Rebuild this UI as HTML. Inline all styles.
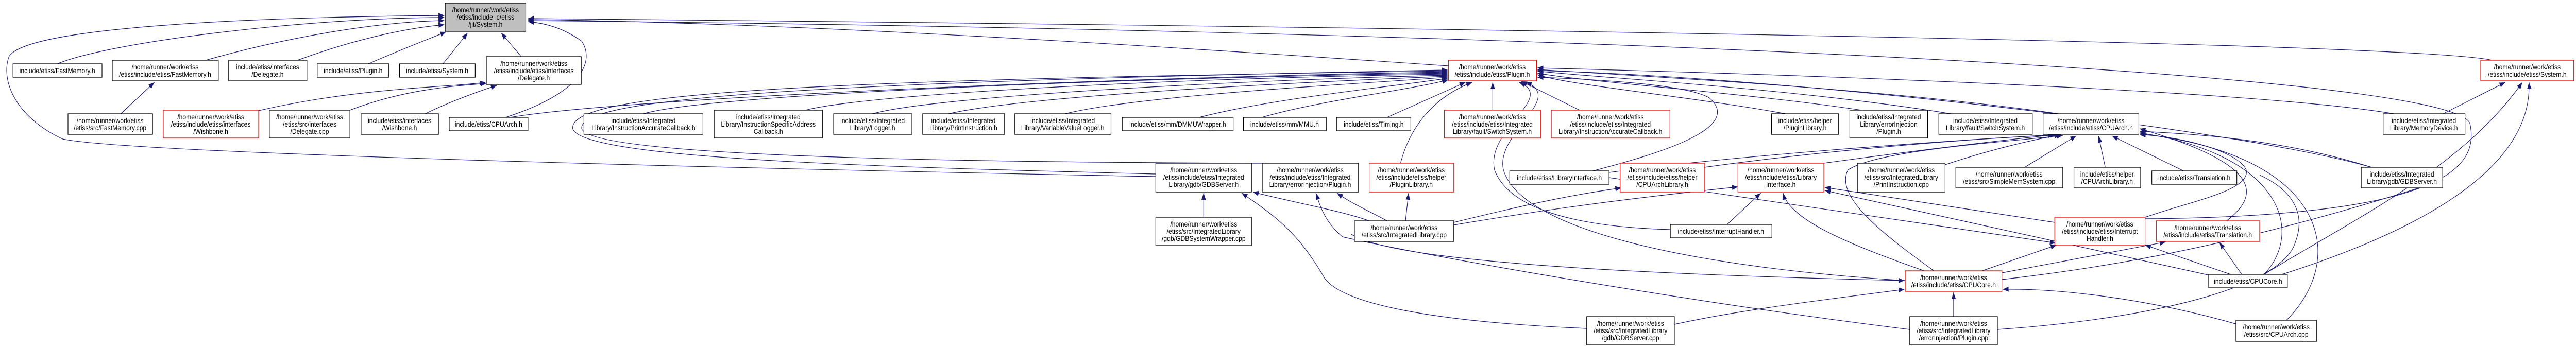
<!DOCTYPE html>
<html><head><meta charset="utf-8"><style>
html,body{margin:0;padding:0;background:#fff;width:100%;height:100%;overflow:hidden;}
svg{display:block;width:100vw;height:100vh;}
text{font-family:"Liberation Sans",sans-serif;font-size:14px;fill:#000;}
.b{fill:#fff;stroke:#000;stroke-width:1.3;}
.r{fill:#fff;stroke:#ff0000;stroke-width:1.3;}
.e{fill:none;stroke:#191970;stroke-width:1.2;}
</style></head><body>
<svg viewBox="0 0 5757 676" preserveAspectRatio="none" xmlns="http://www.w3.org/2000/svg">
<defs><marker id="a" markerUnits="userSpaceOnUse" markerWidth="14" markerHeight="12" refX="13" refY="5" orient="auto"><path d="M0,0 L13,5 L0,10 z" fill="#191970"/></marker></defs>
<g class="e" marker-end="url(#a)">
<path d="M128,124 C250,80 700,34 993,34"/>
<path d="M460,117 C650,70 850,42 993,40"/>
<path d="M665,117 C780,80 900,55 993,48"/>
<path d="M823,124 C900,95 960,75 997,62"/>
<path d="M990,124 L1045,64"/>
<path d="M1165,110 L1120,64"/>
<path d="M1130,228 C1300,180 1330,120 1300,80 C1260,55 1220,45 1180,42"/>
<path d="M2583,343 C1800,330 300,300 140,270 C40,230 0,160 20,110 C60,50 600,33 993,30"/>
<path d="M3237,128 C2600,90 1800,45 1180,38"/>
<path d="M5570,117 C5400,85 3500,55 1180,36"/>
<path d="M4794,425 C5480,420 5540,320 5520,240 C5480,140 3500,60 1180,40"/>
<path d="M270,221 L345,160"/>
<path d="M578,215 C800,170 1000,170 1085,160"/>
<path d="M782,214 C900,175 1000,168 1087,162"/>
<path d="M950,221 C1000,200 1060,180 1110,166"/>
<path d="M1140,228 C1400,190 2500,150 3235,140"/>
<path d="M1438,221 C1600,180 2600,150 3235,142"/>
<path d="M1800,214 C1950,180 2700,150 3235,144"/>
<path d="M1950,221 C2100,185 2800,155 3235,146"/>
<path d="M2120,221 C2300,185 2900,160 3235,148"/>
<path d="M2380,221 C2550,185 3000,165 3235,150"/>
<path d="M2680,228 C2850,190 3100,170 3235,152"/>
<path d="M2820,228 C2950,195 3150,175 3237,155"/>
<path d="M3100,228 L3275,160"/>
<path d="M2583,338 C2000,325 1300,310 1280,250 C1270,180 1800,155 3235,138"/>
<path d="M2830,317 C2000,315 1320,300 1300,250 C1290,190 1800,160 3235,136"/>
<path d="M3336,214 L3336,160"/>
<path d="M3530,214 L3400,158"/>
<path d="M3130,317 C3150,250 3200,190 3290,160"/>
<path d="M3990,221 C3800,190 3500,165 3436,145"/>
<path d="M4160,214 C3900,180 3550,160 3436,142"/>
<path d="M4360,221 C4000,170 3550,150 3436,138"/>
<path d="M4600,221 C4200,170 3600,145 3436,135"/>
<path d="M5350,221 C5000,170 3800,140 3436,132"/>
<path d="M5300,325 C5000,250 4000,150 3436,137"/>
<path d="M3560,332 C3700,300 3900,250 3820,190 C3760,160 3500,152 3436,150"/>
<path d="M3733,446 C3500,440 3370,400 3340,330 C3320,250 3480,190 3395,160"/>
<path d="M4258,545 C3800,520 3400,450 3360,330 C3340,260 3500,190 3410,160"/>
<path d="M4076,317 C4300,290 4500,270 4590,262"/>
<path d="M3596,335 C3900,300 4400,270 4592,262"/>
<path d="M3809,325 C4100,290 4400,270 4595,262"/>
<path d="M4347,320 C4450,290 4550,270 4605,262"/>
<path d="M4525,325 L4640,264"/>
<path d="M4705,325 L4690,264"/>
<path d="M4880,332 L4720,264"/>
<path d="M4322,526 C4200,450 4100,380 4130,330 C4200,290 4500,275 4610,263"/>
<path d="M5300,325 C5100,270 4900,260 4782,255"/>
<path d="M5060,533 C5150,450 5100,300 4782,258"/>
<path d="M5110,622 C5250,500 5200,300 4782,260"/>
<path d="M4976,429 C5050,380 5060,320 4782,250"/>
<path d="M4794,422 C4900,390 5030,370 5020,330 C5000,290 4850,262 4782,262"/>
<path d="M5460,221 L5599,160"/>
<path d="M5060,533 C5250,430 5500,330 5637,160"/>
<path d="M5100,533 C5400,450 5660,330 5652,160"/>
<path d="M2690,422 L2690,375"/>
<path d="M3546,638 C3200,625 3000,590 2960,540 C2900,450 2850,420 2775,375"/>
<path d="M3060,429 C3000,410 2900,395 2800,373"/>
<path d="M3100,429 C3060,410 3020,395 2988,375"/>
<path d="M4268,640 C3800,590 3200,500 3000,460 C2960,430 2950,400 2941,375"/>
<path d="M3141,429 L3148,375"/>
<path d="M3249,432 C3400,400 3500,380 3623,365"/>
<path d="M3249,437 C3500,400 3700,380 3884,363"/>
<path d="M3860,436 L3935,375"/>
<path d="M4300,526 C4150,480 4000,430 3985,375"/>
<path d="M4592,432 L4078,364"/>
<path d="M4950,537 L4078,370"/>
<path d="M3596,345 L4594,472"/>
<path d="M4430,526 L4596,476"/>
<path d="M4474,530 L4840,470"/>
<path d="M4985,533 L4794,476"/>
<path d="M5010,533 L4960,471"/>
<path d="M4366,615 L4366,568"/>
<path d="M3742,630 C3900,600 4100,580 4256,562"/>
<path d="M5000,630 C4800,580 4600,560 4476,562"/>
<path d="M3020,455 C3100,500 3500,530 4256,545"/>
</g>
<path class="e" d="M4474,543 C4700,520 5000,480 5460,350"/>
<path class="e" d="M4464,640 C4800,620 5100,560 5130,470 C5160,400 5100,360 5050,340"/>

<rect x="995" y="6" width="180" height="55" fill="#bfbfbf" stroke="#000" stroke-width="1.3"/>
<text x="1085" y="24" text-anchor="middle">/home/runner/work/etiss</text><text x="1085" y="38" text-anchor="middle">/etiss/include_c/etiss</text><text x="1085" y="52" text-anchor="middle">/jit/System.h</text>

<rect class="b" x="29" y="124" width="199" height="26"/><text x="128" y="142" text-anchor="middle">include/etiss/FastMemory.h</text>
<rect class="b" x="251" y="117" width="237" height="40"/><text x="369" y="135" text-anchor="middle">/home/runner/work/etiss</text><text x="369" y="149" text-anchor="middle">/etiss/include/etiss/FastMemory.h</text>
<rect class="b" x="511" y="117" width="175" height="40"/><text x="598" y="135" text-anchor="middle">include/etiss/interfaces</text><text x="598" y="149" text-anchor="middle">/Delegate.h</text>
<rect class="b" x="709" y="124" width="160" height="26"/><text x="789" y="142" text-anchor="middle">include/etiss/Plugin.h</text>
<rect class="b" x="893" y="124" width="169" height="26"/><text x="977" y="142" text-anchor="middle">include/etiss/System.h</text>
<rect class="b" x="1087" y="110" width="212" height="54"/><text x="1193" y="128" text-anchor="middle">/home/runner/work/etiss</text><text x="1193" y="142" text-anchor="middle">/etiss/include/etiss/interfaces</text><text x="1193" y="156" text-anchor="middle">/Delegate.h</text>

<rect class="b" x="152" y="221" width="189" height="40"/><text x="246" y="239" text-anchor="middle">/home/runner/work/etiss</text><text x="246" y="253" text-anchor="middle">/etiss/src/FastMemory.cpp</text>
<rect class="r" x="365" y="214" width="213" height="54"/><text x="471" y="232" text-anchor="middle">/home/runner/work/etiss</text><text x="471" y="246" text-anchor="middle">/etiss/include/etiss/interfaces</text><text x="471" y="260" text-anchor="middle">/Wishbone.h</text>
<rect class="b" x="602" y="214" width="180" height="54"/><text x="692" y="232" text-anchor="middle">/home/runner/work/etiss</text><text x="692" y="246" text-anchor="middle">/etiss/src/interfaces</text><text x="692" y="260" text-anchor="middle">/Delegate.cpp</text>
<rect class="b" x="807" y="221" width="173" height="40"/><text x="893" y="239" text-anchor="middle">include/etiss/interfaces</text><text x="893" y="253" text-anchor="middle">/Wishbone.h</text>
<rect class="b" x="1004" y="228" width="176" height="26"/><text x="1092" y="246" text-anchor="middle">include/etiss/CPUArch.h</text>
<rect class="b" x="1305" y="221" width="266" height="40"/><text x="1438" y="239" text-anchor="middle">include/etiss/Integrated</text><text x="1438" y="253" text-anchor="middle">Library/InstructionAccurateCallback.h</text>
<rect class="b" x="1596" y="214" width="242" height="54"/><text x="1717" y="232" text-anchor="middle">include/etiss/Integrated</text><text x="1717" y="246" text-anchor="middle">Library/InstructionSpecificAddress</text><text x="1717" y="260" text-anchor="middle">Callback.h</text>
<rect class="b" x="1863" y="221" width="175" height="40"/><text x="1950" y="239" text-anchor="middle">include/etiss/Integrated</text><text x="1950" y="253" text-anchor="middle">Library/Logger.h</text>
<rect class="b" x="2062" y="221" width="183" height="40"/><text x="2153" y="239" text-anchor="middle">include/etiss/Integrated</text><text x="2153" y="253" text-anchor="middle">Library/PrintInstruction.h</text>
<rect class="b" x="2268" y="221" width="215" height="40"/><text x="2375" y="239" text-anchor="middle">include/etiss/Integrated</text><text x="2375" y="253" text-anchor="middle">Library/VariableValueLogger.h</text>
<rect class="b" x="2508" y="228" width="248" height="26"/><text x="2632" y="246" text-anchor="middle">include/etiss/mm/DMMUWrapper.h</text>
<rect class="b" x="2779" y="228" width="185" height="26"/><text x="2871" y="246" text-anchor="middle">include/etiss/mm/MMU.h</text>
<rect class="b" x="2987" y="228" width="166" height="26"/><text x="3070" y="246" text-anchor="middle">include/etiss/Timing.h</text>
<rect class="r" x="3237" y="117" width="197" height="40"/><text x="3335" y="135" text-anchor="middle">/home/runner/work/etiss</text><text x="3335" y="149" text-anchor="middle">/etiss/include/etiss/Plugin.h</text>
<rect class="r" x="3228" y="214" width="215" height="54"/><text x="3335" y="232" text-anchor="middle">/home/runner/work/etiss</text><text x="3335" y="246" text-anchor="middle">/etiss/include/etiss/Integrated</text><text x="3335" y="260" text-anchor="middle">Library/fault/SwitchSystem.h</text>
<rect class="r" x="3467" y="214" width="265" height="54"/><text x="3599" y="232" text-anchor="middle">/home/runner/work/etiss</text><text x="3599" y="246" text-anchor="middle">/etiss/include/etiss/Integrated</text><text x="3599" y="260" text-anchor="middle">Library/InstructionAccurateCallback.h</text>
<rect class="b" x="3959" y="221" width="150" height="40"/><text x="4034" y="239" text-anchor="middle">include/etiss/helper</text><text x="4034" y="253" text-anchor="middle">/PluginLibrary.h</text>
<rect class="b" x="4134" y="214" width="174" height="54"/><text x="4221" y="232" text-anchor="middle">include/etiss/Integrated</text><text x="4221" y="246" text-anchor="middle">Library/errorInjection</text><text x="4221" y="260" text-anchor="middle">/Plugin.h</text>
<rect class="b" x="4333" y="221" width="209" height="40"/><text x="4437" y="239" text-anchor="middle">include/etiss/Integrated</text><text x="4437" y="253" text-anchor="middle">Library/fault/SwitchSystem.h</text>
<rect class="b" x="4566" y="221" width="214" height="40"/><text x="4673" y="239" text-anchor="middle">/home/runner/work/etiss</text><text x="4673" y="253" text-anchor="middle">/etiss/include/etiss/CPUArch.h</text>
<rect class="b" x="5326" y="221" width="183" height="40"/><text x="5417" y="239" text-anchor="middle">include/etiss/Integrated</text><text x="5417" y="253" text-anchor="middle">Library/MemoryDevice.h</text>
<rect class="r" x="5544" y="117" width="208" height="40"/><text x="5648" y="135" text-anchor="middle">/home/runner/work/etiss</text><text x="5648" y="149" text-anchor="middle">/etiss/include/etiss/System.h</text>

<rect class="b" x="2583" y="317" width="214" height="56"/><text x="2690" y="335" text-anchor="middle">/home/runner/work/etiss</text><text x="2690" y="349" text-anchor="middle">/etiss/include/etiss/Integrated</text><text x="2690" y="363" text-anchor="middle">Library/gdb/GDBServer.h</text>
<rect class="b" x="2821" y="317" width="215" height="56"/><text x="2928" y="335" text-anchor="middle">/home/runner/work/etiss</text><text x="2928" y="349" text-anchor="middle">/etiss/include/etiss/Integrated</text><text x="2928" y="363" text-anchor="middle">Library/errorInjection/Plugin.h</text>
<rect class="r" x="3060" y="317" width="189" height="56"/><text x="3154" y="335" text-anchor="middle">/home/runner/work/etiss</text><text x="3154" y="349" text-anchor="middle">/etiss/include/etiss/helper</text><text x="3154" y="363" text-anchor="middle">/PluginLibrary.h</text>
<rect class="b" x="3374" y="332" width="222" height="26"/><text x="3485" y="350" text-anchor="middle">include/etiss/LibraryInterface.h</text>
<rect class="r" x="3621" y="317" width="188" height="56"/><text x="3715" y="335" text-anchor="middle">/home/runner/work/etiss</text><text x="3715" y="349" text-anchor="middle">/etiss/include/etiss/helper</text><text x="3715" y="363" text-anchor="middle">/CPUArchLibrary.h</text>
<rect class="r" x="3884" y="317" width="192" height="56"/><text x="3980" y="335" text-anchor="middle">/home/runner/work/etiss</text><text x="3980" y="349" text-anchor="middle">/etiss/include/etiss/Library</text><text x="3980" y="363" text-anchor="middle">Interface.h</text>
<rect class="b" x="4151" y="317" width="196" height="56"/><text x="4249" y="335" text-anchor="middle">/home/runner/work/etiss</text><text x="4249" y="349" text-anchor="middle">/etiss/src/IntegratedLibrary</text><text x="4249" y="363" text-anchor="middle">/PrintInstruction.cpp</text>
<rect class="b" x="4371" y="325" width="239" height="40"/><text x="4490" y="343" text-anchor="middle">/home/runner/work/etiss</text><text x="4490" y="357" text-anchor="middle">/etiss/src/SimpleMemSystem.cpp</text>
<rect class="b" x="4635" y="325" width="149" height="40"/><text x="4709" y="343" text-anchor="middle">include/etiss/helper</text><text x="4709" y="357" text-anchor="middle">/CPUArchLibrary.h</text>
<rect class="b" x="4809" y="332" width="190" height="26"/><text x="4904" y="350" text-anchor="middle">include/etiss/Translation.h</text>
<rect class="b" x="5277" y="325" width="182" height="40"/><text x="5368" y="343" text-anchor="middle">include/etiss/Integrated</text><text x="5368" y="357" text-anchor="middle">Library/gdb/GDBServer.h</text>

<rect class="b" x="2583" y="422" width="214" height="55"/><text x="2690" y="440" text-anchor="middle">/home/runner/work/etiss</text><text x="2690" y="454" text-anchor="middle">/etiss/src/IntegratedLibrary</text><text x="2690" y="468" text-anchor="middle">/gdb/GDBSystemWrapper.cpp</text>
<rect class="b" x="3027" y="429" width="222" height="40"/><text x="3138" y="447" text-anchor="middle">/home/runner/work/etiss</text><text x="3138" y="461" text-anchor="middle">/etiss/src/IntegratedLibrary.cpp</text>
<rect class="b" x="3733" y="436" width="227" height="26"/><text x="3846" y="454" text-anchor="middle">include/etiss/InterruptHandler.h</text>
<rect class="r" x="4592" y="422" width="202" height="54"/><text x="4693" y="440" text-anchor="middle">/home/runner/work/etiss</text><text x="4693" y="454" text-anchor="middle">/etiss/include/etiss/Interrupt</text><text x="4693" y="468" text-anchor="middle">Handler.h</text>
<rect class="r" x="4819" y="429" width="231" height="40"/><text x="4934" y="447" text-anchor="middle">/home/runner/work/etiss</text><text x="4934" y="461" text-anchor="middle">/etiss/include/etiss/Translation.h</text>
<rect class="r" x="4258" y="526" width="216" height="40"/><text x="4366" y="544" text-anchor="middle">/home/runner/work/etiss</text><text x="4366" y="558" text-anchor="middle">/etiss/include/etiss/CPUCore.h</text>
<rect class="b" x="4936" y="533" width="176" height="26"/><text x="5024" y="551" text-anchor="middle">include/etiss/CPUCore.h</text>
<rect class="b" x="3546" y="615" width="196" height="55"/><text x="3644" y="633" text-anchor="middle">/home/runner/work/etiss</text><text x="3644" y="647" text-anchor="middle">/etiss/src/IntegratedLibrary</text><text x="3644" y="661" text-anchor="middle">/gdb/GDBServer.cpp</text>
<rect class="b" x="4268" y="615" width="196" height="55"/><text x="4366" y="633" text-anchor="middle">/home/runner/work/etiss</text><text x="4366" y="647" text-anchor="middle">/etiss/src/IntegratedLibrary</text><text x="4366" y="661" text-anchor="middle">/errorInjection/Plugin.cpp</text>
<rect class="b" x="4997" y="622" width="180" height="41"/><text x="5087" y="640" text-anchor="middle">/home/runner/work/etiss</text><text x="5087" y="654" text-anchor="middle">/etiss/src/CPUArch.cpp</text>
</svg>
</body></html>
